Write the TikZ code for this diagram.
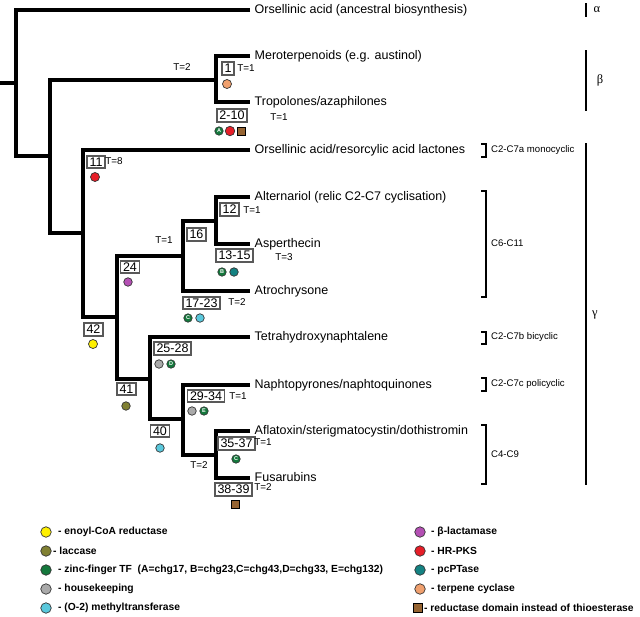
\documentclass[tikz,border=0pt]{standalone}
\usepackage{fontspec}
\setmainfont{Liberation Sans}
\newfontfamily\greekfont{Liberation Serif}
\definecolor{yellowc}{RGB}{255,240,0}
\definecolor{olivec}{RGB}{128,128,50}
\definecolor{greenc}{RGB}{20,120,60}
\definecolor{grayc}{RGB}{170,170,170}
\definecolor{lbluec}{RGB}{90,200,220}
\definecolor{magc}{RGB}{180,80,180}
\definecolor{redc}{RGB}{230,30,40}
\definecolor{tealc}{RGB}{20,130,130}
\definecolor{orangec}{RGB}{240,160,110}
\definecolor{brownc}{RGB}{150,100,50}
\begin{document}
\begin{tikzpicture}[x=1pt,y=-1pt,
  branch/.style={line width=3.2pt},
  leaf/.style={anchor=west, inner xsep=4.5pt, inner ysep=0pt, text height=9pt, text depth=2.5pt, font=\fontsize{12.5}{14}\selectfont},
  numbox/.style={draw=black!65, line width=1.8pt, fill=white, inner xsep=2.5pt, inner ysep=1.6pt, text height=9pt, text depth=0.3pt, font=\fontsize{12.5}{14}\selectfont},
  tlab/.style={inner sep=0pt, font=\fontsize{9.9}{11}\selectfont},
  dot/.style={circle, draw=black!80, line width=0.7pt, minimum size=9pt, inner sep=0pt},
  ldot/.style={circle, draw=black!80, line width=0.6pt, fill=greenc, minimum size=8.5pt, inner sep=0pt, text=white, font=\fontsize{5.5}{5.5}\selectfont\bfseries},
  sqr/.style={rectangle, draw=black, line width=0.9pt, fill=brownc, minimum size=8pt, inner sep=0pt},
  clade/.style={anchor=west, inner sep=0pt, font=\fontsize{9.6}{11}\selectfont},
  legtext/.style={anchor=west, inner sep=0pt, font=\fontsize{10.3}{11}\selectfont\bfseries},
  bracket/.style={line width=2pt},
  bar/.style={line width=2.8pt},
  greek/.style={inner sep=0pt, font=\fontsize{12.5}{14}\greekfont}
]
\useasboundingbox (0,0) rectangle (640,616);

% ---- internal nodes
\coordinate (stub) at (0,83);
\coordinate (n0) at (16,83);
\coordinate (n1) at (50,156);
\coordinate (nb) at (216,80);
\coordinate (n2) at (83,233);
\coordinate (n3) at (117,317);
\coordinate (n4) at (183,256);
\coordinate (n5) at (216,221);
\coordinate (n7) at (150,379);
\coordinate (n8) at (183,419);
\coordinate (n9) at (216,455);

% ---- leaves
\node[leaf] (L1) at (250,10) {Orsellinic acid (ancestral biosynthesis)};
\node[leaf] (L2) at (250,56) {Meroterpenoids (e.g. austinol)};
\node[leaf] (L3) at (250,102) {Tropolones/azaphilones};
\node[leaf] (L4) at (250,150) {Orsellinic acid/resorcylic acid lactones};
\node[leaf] (L5) at (250,197) {Alternariol (relic C2-C7 cyclisation)};
\node[leaf] (L6) at (250,244) {Asperthecin};
\node[leaf] (L8) at (250,291) {Atrochrysone};
\node[leaf] (L9) at (250,337) {Tetrahydroxynaphtalene};
\node[leaf] (L10) at (250,385) {Naphtopyrones/naphtoquinones};
\node[leaf] (L11) at (250,431) {Aflatoxin/sterigmatocystin/dothistromin};
\node[leaf] (L12) at (250,478) {Fusarubins};

% ---- branches
\draw[branch] (stub) -- (n0);
\draw[branch] (L1.west) -| (n0) |- (n1);
\draw[branch] (n2) -| (n1) |- (nb);
\draw[branch] (L2.west) -| (nb) |- (L3.west);
\draw[branch] (L4.west) -| (n2) |- (n3);
\draw[branch] (n4) -| (n3) |- (n7);
\draw[branch] (n5) -| (n4) |- (L8.west);
\draw[branch] (L5.west) -| (n5) |- (L6.west);
\draw[branch] (L9.west) -| (n7) |- (n8);
\draw[branch] (L10.west) -| (n8) |- (n9);
\draw[branch] (L11.west) -| (n9) |- (L12.west);

% ---- number boxes
\node[numbox] (b1) at (228,68.5) {1};
\node[numbox] (b2) at (232,115.5) {2-10};
\node[numbox] (b11) at (96,162) {11};
\node[numbox] (b42) at (93.5,329.5) {42};
\node[numbox] (b24) at (130,267) {24};
\node[numbox] (b16) at (196.5,234.5) {16};
\node[numbox] (b12) at (229.5,209.5) {12};
\node[numbox] (b13) at (234.5,255.5) {13-15};
\node[numbox] (b17) at (201.5,303) {17-23};
\node[numbox] (b25) at (172.5,348.5) {25-28};
\node[numbox] (b41) at (126.5,389) {41};
\node[numbox] (b29) at (206,396) {29-34};
\node[numbox] (b40) at (160,431) {40};
\node[numbox] (b35) at (236.5,443.5) {35-37};
\node[numbox] (b38) at (233.5,489.5) {38-39};

% ---- T labels
\node[tlab] (t1) at (182,67) {T=2};
\node[tlab] (t2) at (246,68) {T=1};
\node[tlab] (t3) at (279,117) {T=1};
\node[tlab] (t4) at (114,161) {T=8};
\node[tlab] (t5) at (164,240) {T=1};
\node[tlab] (t6) at (252,210) {T=1};
\node[tlab] (t7) at (284,257) {T=3};
\node[tlab] (t8) at (237,302) {T=2};
\node[tlab] (t9) at (238,396) {T=1};
\node[tlab] (t10) at (199,465) {T=2};
\node[tlab] (t11) at (263,442) {T=1};
\node[tlab] (t12) at (263,487) {T=2};

% ---- markers on tree
\node[dot, fill=orangec] (m1) at (227,84) {};
\node[ldot] (m2) at (219,131) {A};
\node[dot, fill=redc, minimum size=9.5pt] (m3) at (230,131) {};
\node[sqr] (m4) at (241,131) {};
\node[dot, fill=redc] (m5) at (95,177) {};
\node[dot, fill=yellowc] (m6) at (93,344) {};
\node[dot, fill=magc, minimum size=8.5pt] (m7) at (128,282) {};
\node[ldot] (m8) at (222,272) {B};
\node[dot, fill=tealc, minimum size=8.5pt] (m9) at (234,272) {};
\node[ldot] (m10) at (188,318) {C};
\node[dot, fill=lbluec, minimum size=8.5pt] (m11) at (200,318) {};
\node[dot, fill=grayc, minimum size=8.5pt] (m12) at (159,364) {};
\node[ldot] (m13) at (171,364) {D};
\node[dot, fill=olivec, minimum size=8.5pt] (m14) at (126,406) {};
\node[dot, fill=grayc, minimum size=8.5pt] (m15) at (192,411) {};
\node[ldot] (m16) at (204,411) {E};
\node[dot, fill=lbluec, minimum size=8.5pt] (m17) at (160,448) {};
\node[ldot] (m18) at (236,459) {C};
\node[sqr] (m19) at (235,504) {};

% ---- clade brackets
\draw[bracket] (481,144) -- (486,144) -- (486,157) -- (481,157);
\node[clade] (c1) at (491,150) {C2-C7a monocyclic};
\draw[bracket] (481,191) -- (486,191) -- (486,297) -- (481,297);
\node[clade] (c2) at (491,243) {C6-C11};
\draw[bracket] (481,332) -- (486,332) -- (486,344) -- (481,344);
\node[clade] (c3) at (491,337) {C2-C7b bicyclic};
\draw[bracket] (481,378) -- (486,378) -- (486,391) -- (481,391);
\node[clade] (c4) at (491,384) {C2-C7c policyclic};
\draw[bracket] (481,425) -- (486,425) -- (486,484) -- (481,484);
\node[clade] (c5) at (491,454) {C4-C9};

% ---- big bars
\draw[bar] (586,3) -- (586,17);
\node[greek] (ga) at (597,10) {α};
\draw[bar] (586,50) -- (586,111);
\node[greek] (gb) at (600,80) {β};
\draw[bar] (586,143) -- (586,485);
\node[greek] (gc) at (595,315) {γ};

% ---- legend
\node[dot, fill=yellowc, minimum size=10.5pt] (k1) at (46,532) {};
\node[legtext] (k1t) at (58,532) {- enoyl-CoA reductase};
\node[dot, fill=olivec, minimum size=10.5pt] (k2) at (46,551) {};
\node[legtext] (k2t) at (53,551) {- laccase};
\node[dot, fill=greenc, minimum size=10.5pt] (k3) at (46,570) {};
\node[legtext] (k3t) at (58,570) {- zinc-finger TF\ \ (A=chg17, B=chg23,C=chg43,D=chg33, E=chg132)};
\node[dot, fill=grayc, minimum size=10.5pt] (k4) at (46,589) {};
\node[legtext] (k4t) at (58,589) {- housekeeping};
\node[dot, fill=lbluec, minimum size=10.5pt] (k5) at (46,608) {};
\node[legtext] (k5t) at (58,608) {- (O-2) methyltransferase};

\node[dot, fill=magc, minimum size=10.5pt] (k6) at (420,532) {};
\node[legtext] (k6t) at (431,532) {- β-lactamase};
\node[dot, fill=redc, minimum size=10.5pt] (k7) at (420,551) {};
\node[legtext] (k7t) at (431,551) {- HR-PKS};
\node[dot, fill=tealc, minimum size=10.5pt] (k8) at (420,570) {};
\node[legtext] (k8t) at (431,570) {- pcPTase};
\node[dot, fill=orangec, minimum size=10.5pt] (k9) at (420,589) {};
\node[legtext] (k9t) at (431,589) {- terpene cyclase};
\node[sqr, minimum size=9.5pt] (k10) at (418,608) {};
\node[legtext] (k10t) at (424,608) {- reductase domain instead of thioesterase};
\end{tikzpicture}
\end{document}
